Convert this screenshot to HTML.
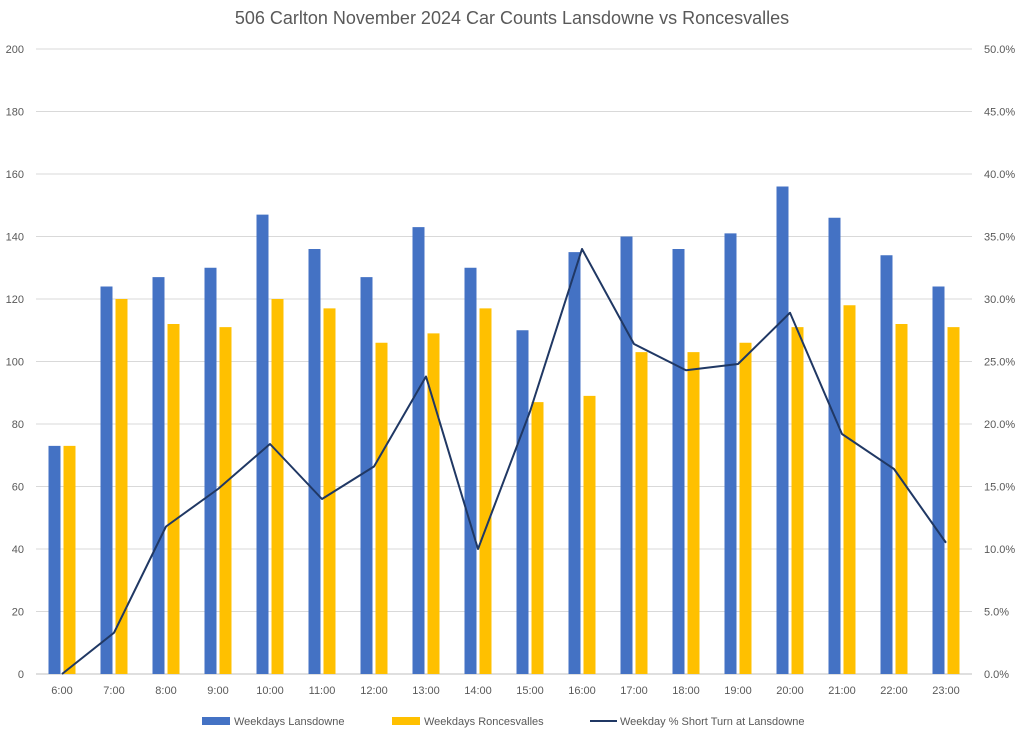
<!DOCTYPE html>
<html><head><meta charset="utf-8"><style>
body{margin:0;background:#fff;}
svg text{font-family:"Liberation Sans",sans-serif;fill:#595959;}
</style></head><body>
<svg id="chart" width="1024" height="737" xmlns="http://www.w3.org/2000/svg">
<text x="512" y="24" text-anchor="middle" font-size="18">506 Carlton November 2024 Car Counts Lansdowne vs Roncesvalles</text>
<g id="grid"></g><g id="bars"></g><g id="line"></g><g id="axes"></g>
<g font-size="11">
<rect x="202" y="717" width="28" height="8" fill="#4472C4"/>
<text x="234" y="725">Weekdays Lansdowne</text>
<rect x="392" y="717" width="28" height="8" fill="#FFC000"/>
<text x="424" y="725">Weekdays Roncesvalles</text>
<line x1="590" y1="721" x2="617" y2="721" stroke="#203864" stroke-width="2"/>
<text x="620" y="725">Weekday % Short Turn at Lansdowne</text>
</g>
</svg>
<script>
const categories=["6:00","7:00","8:00","9:00","10:00","11:00","12:00","13:00","14:00","15:00","16:00","17:00","18:00","19:00","20:00","21:00","22:00","23:00"];
const lansdowne=[73,124,127,130,147,136,127,143,130,110,135,140,136,141,156,146,134,124];
const roncesvalles=[73,120,112,111,120,117,106,109,117,87,89,103,103,106,111,118,112,111];
const shortTurnPct=[0,3.3,11.8,14.8,18.4,14.0,16.6,23.8,10.0,21.0,34.0,26.4,24.3,24.8,28.9,19.2,16.4,10.5];
const leftTicks=[0,20,40,60,80,100,120,140,160,180,200];
const rightTicks=[0,5,10,15,20,25,30,35,40,45,50];
const NS="http://www.w3.org/2000/svg";
const x0=36,x1=972,yTop=49,yBot=674;
const band=(x1-x0)/categories.length;
const xc=i=>x0+band*(i+0.5);
const yL=v=>yBot-(v/200)*(yBot-yTop);
const yR=v=>yBot-(v/50)*(yBot-yTop);
function mk(tag,attrs,parent,txt){const e=document.createElementNS(NS,tag);for(const k in attrs)e.setAttribute(k,attrs[k]);if(txt!==undefined)e.textContent=txt;document.getElementById(parent).appendChild(e);return e;}
leftTicks.forEach((t,i)=>{
 const g=mk("line",{x1:x0,x2:x1,y1:yL(t),y2:yL(t),stroke:t===0?"#bfbfbf":"#d9d9d9","stroke-width":1},"grid");
 
 
 const l=mk("text",{x:24,y:yL(t)+4,"text-anchor":"end","font-size":"11"},"axes",t);
 
 
});
rightTicks.forEach(t=>{
 const l=mk("text",{x:984,y:yR(t)+4,"font-size":"11"},"axes",t.toFixed(1)+"%");
 
 
});
categories.forEach((c,i)=>{
 const l=mk("text",{x:xc(i),y:694,"text-anchor":"middle","font-size":"11"},"axes",c);
 
 
 const b1=mk("rect",{x:xc(i)-13.5,y:yL(lansdowne[i]),width:12,height:yBot-yL(lansdowne[i]),fill:"#4472C4"},"bars");
 
 
 const b2=mk("rect",{x:xc(i)+1.5,y:yL(roncesvalles[i]),width:12,height:yBot-yL(roncesvalles[i]),fill:"#FFC000"},"bars");
 
 
});
const pts=shortTurnPct.map((v,i)=>xc(i)+","+yR(v)).join(" ");
const pl=mk("polyline",{points:pts,fill:"none",stroke:"#203864","stroke-width":2,"stroke-linejoin":"round"},"line");


</script>
</body></html>
